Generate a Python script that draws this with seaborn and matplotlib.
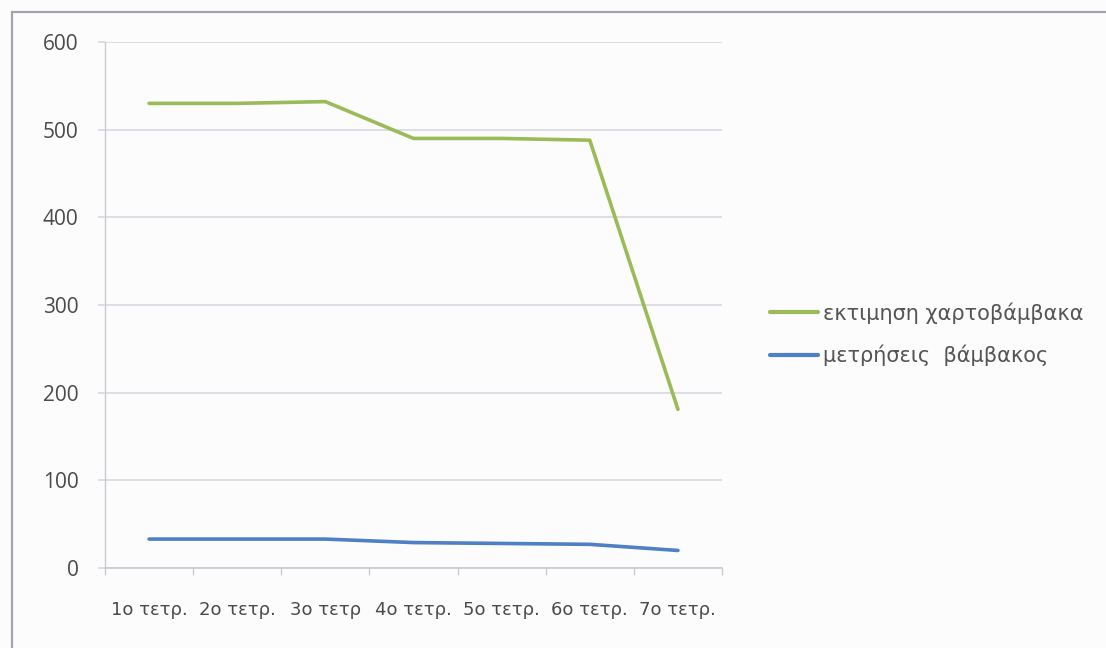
import matplotlib
matplotlib.use("Agg")
import matplotlib.pyplot as plt
from matplotlib.patches import Rectangle
from matplotlib.ticker import FixedLocator, NullFormatter
import seaborn as sns
import pandas as pd

quarters = ["1ο τετρ.", "2ο τετρ.", "3ο τετρ", "4ο τετρ.", "5ο τετρ.", "6ο τετρ.", "7ο τετρ."]
estimate_name = "εκτιμηση χαρτοβάμβακα"
measured_name = "μετρήσεις  βάμβακος"
estimate_values = [530, 530, 532, 490, 490, 488, 181]
measured_values = [33, 33, 33, 29, 28, 27, 20]

df = pd.concat([
    pd.DataFrame({"quarter": quarters, "value": estimate_values, "series": estimate_name}),
    pd.DataFrame({"quarter": quarters, "value": measured_values, "series": measured_name}),
])

sns.set_theme(style="white")
plt.rcParams["font.family"] = ["Open Sans", "DejaVu Sans"]

bg = "#fbfcfb"
text_color = "#4a4a4a"
fig = plt.figure(figsize=(11.06, 6.48), dpi=100, facecolor=bg)
ax = fig.add_axes([105 / 1106, 1 - 568 / 648, (722 - 105) / 1106, (568 - 42) / 648])
ax.set_facecolor(bg)

# chart frame, running off the right and bottom edges
fig.patches.append(Rectangle((12 / 1106, -0.1), 1.2, 1 - 12 / 648 + 0.1,
                             transform=fig.transFigure, fill=False,
                             edgecolor="#a3a3ad", linewidth=1.6, zorder=0))

palette = {estimate_name: "#9bbb59", measured_name: "#4f7fc4"}
sns.lineplot(data=df, x="quarter", y="value", hue="series", palette=palette,
             sort=False, linewidth=2.6, ax=ax, legend=True)

ax.set_xlim(-0.5, 6.5)
ax.set_ylim(0, 600)
ax.set_yticks([0, 100, 200, 300, 400, 500, 600])
ax.yaxis.grid(True, color="#d8d9e2", linewidth=1.2)
ax.set_axisbelow(True)
for side in ["top", "right"]:
    ax.spines[side].set_visible(False)
ax.spines["left"].set_color("#c9cad2")
ax.spines["bottom"].set_color("#c9cad2")
ax.spines["left"].set_linewidth(1.0)
ax.spines["bottom"].set_linewidth(1.2)

ax.set_xticks(range(len(quarters)))
ax.set_xticklabels(quarters, family=["DejaVu Sans"], fontsize=13)
ax.xaxis.set_minor_locator(FixedLocator([i - 0.5 for i in range(len(quarters) + 1)]))
ax.xaxis.set_minor_formatter(NullFormatter())
ax.tick_params(axis="x", which="major", length=0, pad=24, labelcolor=text_color)
ax.tick_params(axis="x", which="minor", length=5, direction="out", color="#c9cad2", bottom=True)
ax.tick_params(axis="y", length=5, direction="out", color="#d8d9e2", left=True,
               pad=14, labelsize=15, labelcolor=text_color)
ax.set_xlabel("")
ax.set_ylabel("")

leg = ax.legend(loc="center left", bbox_to_anchor=(762 / 1106, 1 - 334 / 648),
                bbox_transform=fig.transFigure, frameon=False,
                prop={"family": "DejaVu Sans", "size": 15},
                handlelength=2.3, handletextpad=0.25, labelspacing=1.0,
                borderaxespad=0)
for t in leg.get_texts():
    t.set_color("#555555")
for line in leg.get_lines():
    line.set_linewidth(3)

fig.savefig("out.png", dpi=100, facecolor=bg)
